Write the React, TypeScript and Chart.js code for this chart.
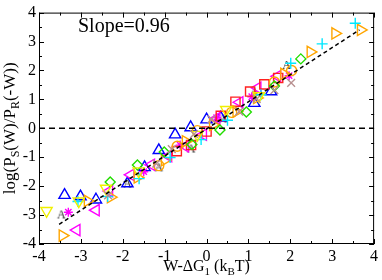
import { useEffect, useRef } from "react";
import { Chart, registerables } from "chart.js";
Chart.register(...registerables);

const FONT = "'Liberation Serif', 'Times New Roman', serif";

const xTickValues = [-4, -3, -2, -1, 0, 1, 2, 3, 4];
const yTickValues = [-4, -3, -2, -1, 0, 1, 2, 3, 4];
const slopeLabel = "Slope=0.96";

// blue open triangles (up)
const blueUpX = [-3.39, -3.01, -2.64, -1.89, -1.48, -1.14, -0.75, -0.38, 0.0, 0.34, 1.14, 1.54];
const blueUpY = [-2.31, -2.36, -2.47, -1.91, -1.35, -0.76, -0.22, 0.03, 0.3, 0.36, 0.87, 1.27];
// orange right triangles
const orangeRightX = [-3.44, -2.84, -2.29, -1.65, -1.0, -0.5, 0.15, 0.71, 1.2, 1.85, 2.48, 3.07, 3.68];
const orangeRightY = [-3.71, -2.51, -2.38, -1.7, -1.1, -0.45, 0.12, 0.58, 1.05, 1.88, 2.64, 3.28, 3.4];
// orange circles
const orangeCircX = [-1.14, -0.7, -0.22, 0.6, 1.62, 2.03];
const orangeCircY = [-1.29, -0.62, -0.08, 0.55, 1.6, 2.0];
// cyan plus
const cyanPlusX = [-3.07, -2.36, -1.61, -0.87, -0.13, 0.5, 1.3, 2.01, 2.76, 3.55];
const cyanPlusY = [-2.53, -2.36, -1.74, -1.01, -0.39, 0.28, 1.16, 2.25, 2.92, 3.63];
// red squares
const redSqX = [-0.71, -0.37, 0.0, 0.34, 0.69, 1.04, 1.38, 1.71];
const redSqY = [-0.79, -0.58, -0.11, 0.43, 0.92, 1.27, 1.52, 1.74];
// magenta left triangles
const magLeftX = [-3.1, -2.64, -2.32, -1.81, -1.32, -0.91, -0.51, -0.08, 0.24, 0.79, 1.22, 1.69];
const magLeftY = [-3.52, -2.83, -2.17, -1.61, -1.26, -0.96, -0.62, -0.22, 0.34, 0.9, 1.4, 1.8];
// magenta asterisks
const magStarX = [-3.3, -1.5, -0.63, 0.24, 1.08, 1.97];
const magStarY = [-2.9, -1.5, -0.58, 0.37, 1.09, 1.82];
// green diamonds
const greenDiaX = [-2.3, -1.65, -1.01, -0.35, 0.32, 0.95, 1.62, 2.25];
const greenDiaY = [-1.86, -1.27, -0.82, -0.56, -0.06, 0.56, 1.46, 2.4];
// yellow down triangles
const yellowDownX = [-3.82, -3.05, -2.4, -1.62, -0.22, 0.47, 1.25];
const yellowDownY = [-2.85, -2.52, -2.08, -1.48, -0.22, 0.64, 1.12];
// brown crosses
const brownXX = [-2.35, -1.2, -0.83, -0.3, 0.12, 0.78, 1.2, 1.62, 2.02];
const brownXY = [-2.32, -1.22, -0.72, -0.2, 0.32, 0.58, 1.02, 1.32, 1.57];
// letter A markers
const letterAX = [-3.47, -1.89, -1.14, -0.37, 0.39, 1.14, 1.91];
const letterAY = [-2.98, -1.91, -1.35, -0.7, 0.34, 1.27, 2.19];

// dashed fit line and zero line
const fitLineX = [-3.52, 3.65];
const fitLineY = [-3.32, 3.4];
const zeroLineX = [-4, 4];
const zeroLineY = [0, 0];

const pts = (xs: number[], ys: number[]) => xs.map((x, i) => ({ x, y: ys[i] }));

function makeLetter(ch: string): HTMLCanvasElement {
  const c = document.createElement("canvas");
  c.width = 11;
  c.height = 12;
  const g = c.getContext("2d")!;
  g.font = `12px ${FONT}`;
  g.fillStyle = "#222";
  g.textAlign = "center";
  g.textBaseline = "middle";
  g.fillText(ch, 5.5, 6.5);
  return c;
}

type Part = { t: string; sub?: boolean };
function drawRich(ctx: CanvasRenderingContext2D, parts: Part[], size: number, subSize: number, subDrop: number) {
  const main = `${size}px ${FONT}`;
  const sub = `${subSize}px ${FONT}`;
  let total = 0;
  const widths = parts.map((p) => {
    ctx.font = p.sub ? sub : main;
    const w = ctx.measureText(p.t).width;
    total += w;
    return w;
  });
  let x = -total / 2;
  parts.forEach((p, i) => {
    ctx.font = p.sub ? sub : main;
    ctx.fillText(p.t, x, p.sub ? subDrop : 0);
    x += widths[i];
  });
}

const framePlugin = {
  id: "frame",
  afterDatasetsDraw(chart: any) {
    const { ctx, chartArea: a, scales } = chart;
    const sx = scales.x;
    const sy = scales.y;
    ctx.save();
    ctx.strokeStyle = "#000";
    ctx.lineWidth = 1;
    ctx.strokeRect(a.left + 0.5, a.top + 0.5, a.right - a.left - 1, a.bottom - a.top - 1);
    ctx.beginPath();
    for (let v = -4; v <= 4.001; v += 0.5) {
      const major = Math.abs(v - Math.round(v)) < 1e-6;
      const len = major ? 5 : 3;
      const px = Math.round(sx.getPixelForValue(v)) + 0.5;
      ctx.moveTo(px, a.bottom);
      ctx.lineTo(px, a.bottom - len);
      ctx.moveTo(px, a.top);
      ctx.lineTo(px, a.top + len);
      const py = Math.round(sy.getPixelForValue(v)) + 0.5;
      ctx.moveTo(a.left, py);
      ctx.lineTo(a.left + len, py);
      ctx.moveTo(a.right, py);
      ctx.lineTo(a.right - len, py);
    }
    ctx.stroke();

    ctx.fillStyle = "#000";
    ctx.textBaseline = "alphabetic";
    ctx.textAlign = "left";
    ctx.font = `20px ${FONT}`;
    ctx.fillText(slopeLabel, 78, 32);

    // x title
    ctx.save();
    ctx.translate((a.left + a.right) / 2, 271);
    drawRich(ctx, [{ t: "W-\u0394G" }, { t: "1", sub: true }, { t: " (k" }, { t: "B", sub: true }, { t: "T)" }], 16, 11, 4);
    ctx.restore();

    // y title
    ctx.save();
    ctx.translate(15, (a.top + a.bottom) / 2);
    ctx.rotate(-Math.PI / 2);
    drawRich(ctx, [{ t: "log(P" }, { t: "S", sub: true }, { t: "(W)/P" }, { t: "R", sub: true }, { t: "(-W))" }], 17, 12, 4);
    ctx.restore();
    ctx.restore();
  },
};

export default function App() {
  const ref = useRef<HTMLCanvasElement>(null);
  useEffect(() => {
    const letterA = makeLetter("A");
    const series = [
      { xs: zeroLineX, ys: zeroLineY, line: true, dash: [6, 4], color: "#000" },
      { xs: fitLineX, ys: fitLineY, line: true, dash: [4, 3], color: "#000" },
      { xs: brownXX, ys: brownXY, color: "#b89090", style: "crossRot", r: 5.5 },
      { xs: yellowDownX, ys: yellowDownY, color: "#f0f000", style: "triangle", r: 6.5, rot: 180 },
      { xs: greenDiaX, ys: greenDiaY, color: "#22dd00", style: "rectRot", r: 5 },
      { xs: cyanPlusX, ys: cyanPlusY, color: "#00e8ff", style: "cross", r: 5.5 },
      { xs: orangeCircX, ys: orangeCircY, color: "#ffa500", style: "circle", r: 5 },
      { xs: orangeRightX, ys: orangeRightY, color: "#ffa500", style: "triangle", r: 6.5, rot: 90 },
      { xs: redSqX, ys: redSqY, color: "#ff2020", style: "rect", r: 6.5 },
      { xs: magLeftX, ys: magLeftY, color: "#ff00ff", style: "triangle", r: 6.5, rot: -90 },
      { xs: magStarX, ys: magStarY, color: "#ff00ff", style: "star", r: 4.5 },
      { xs: blueUpX, ys: blueUpY, color: "#0000ff", style: "triangle", r: 6.5, rot: 0 },
      { xs: letterAX, ys: letterAY, color: "#222", style: letterA as any, r: 5 },
    ];
    const datasets = series.map((s: any) =>
      s.line
        ? {
            data: pts(s.xs, s.ys),
            showLine: true,
            borderColor: s.color,
            borderWidth: 1.5,
            borderDash: s.dash,
            pointRadius: 0,
            fill: false,
          }
        : {
            data: pts(s.xs, s.ys),
            showLine: false,
            pointStyle: s.style,
            pointRadius: s.r,
            pointRotation: s.rot || 0,
            borderColor: s.color,
            backgroundColor: "rgba(0,0,0,0)",
            pointBorderWidth: 1.4,
            borderWidth: 1.4,
          }
    );
    const chart = new Chart(ref.current!, {
      type: "scatter",
      data: { datasets: datasets as any },
      options: {
        animation: false,
        responsive: false,
        layout: { padding: { top: 7, right: 4, left: 0, bottom: 0 } },
        plugins: { legend: { display: false }, tooltip: { enabled: false } },
        scales: {
          x: {
            type: "linear",
            min: -4,
            max: 4,
            afterBuildTicks: (s: any) => {
              s.ticks = xTickValues.map((v) => ({ value: v }));
            },
            afterFit: (s: any) => {
              s.height = 36;
            },
            grid: { display: false, drawTicks: false },
            border: { display: false },
            ticks: { autoSkip: false, maxRotation: 0, padding: 3, color: "#000", font: { family: FONT, size: 16 } },
          },
          y: {
            type: "linear",
            min: -4,
            max: 4,
            afterBuildTicks: (s: any) => {
              s.ticks = yTickValues.map((v) => ({ value: v }));
            },
            afterFit: (s: any) => {
              s.width = 39;
            },
            grid: { display: false, drawTicks: false },
            border: { display: false },
            ticks: { autoSkip: false, padding: 3, color: "#000", font: { family: FONT, size: 16 } },
          },
        },
      },
      plugins: [framePlugin],
    });
    return () => chart.destroy();
  }, []);
  return (
    <div style={{ position: "fixed", left: 0, top: 0, width: 382, height: 280, background: "#fff" }}>
      <canvas ref={ref} width={382} height={280} />
    </div>
  );
}
